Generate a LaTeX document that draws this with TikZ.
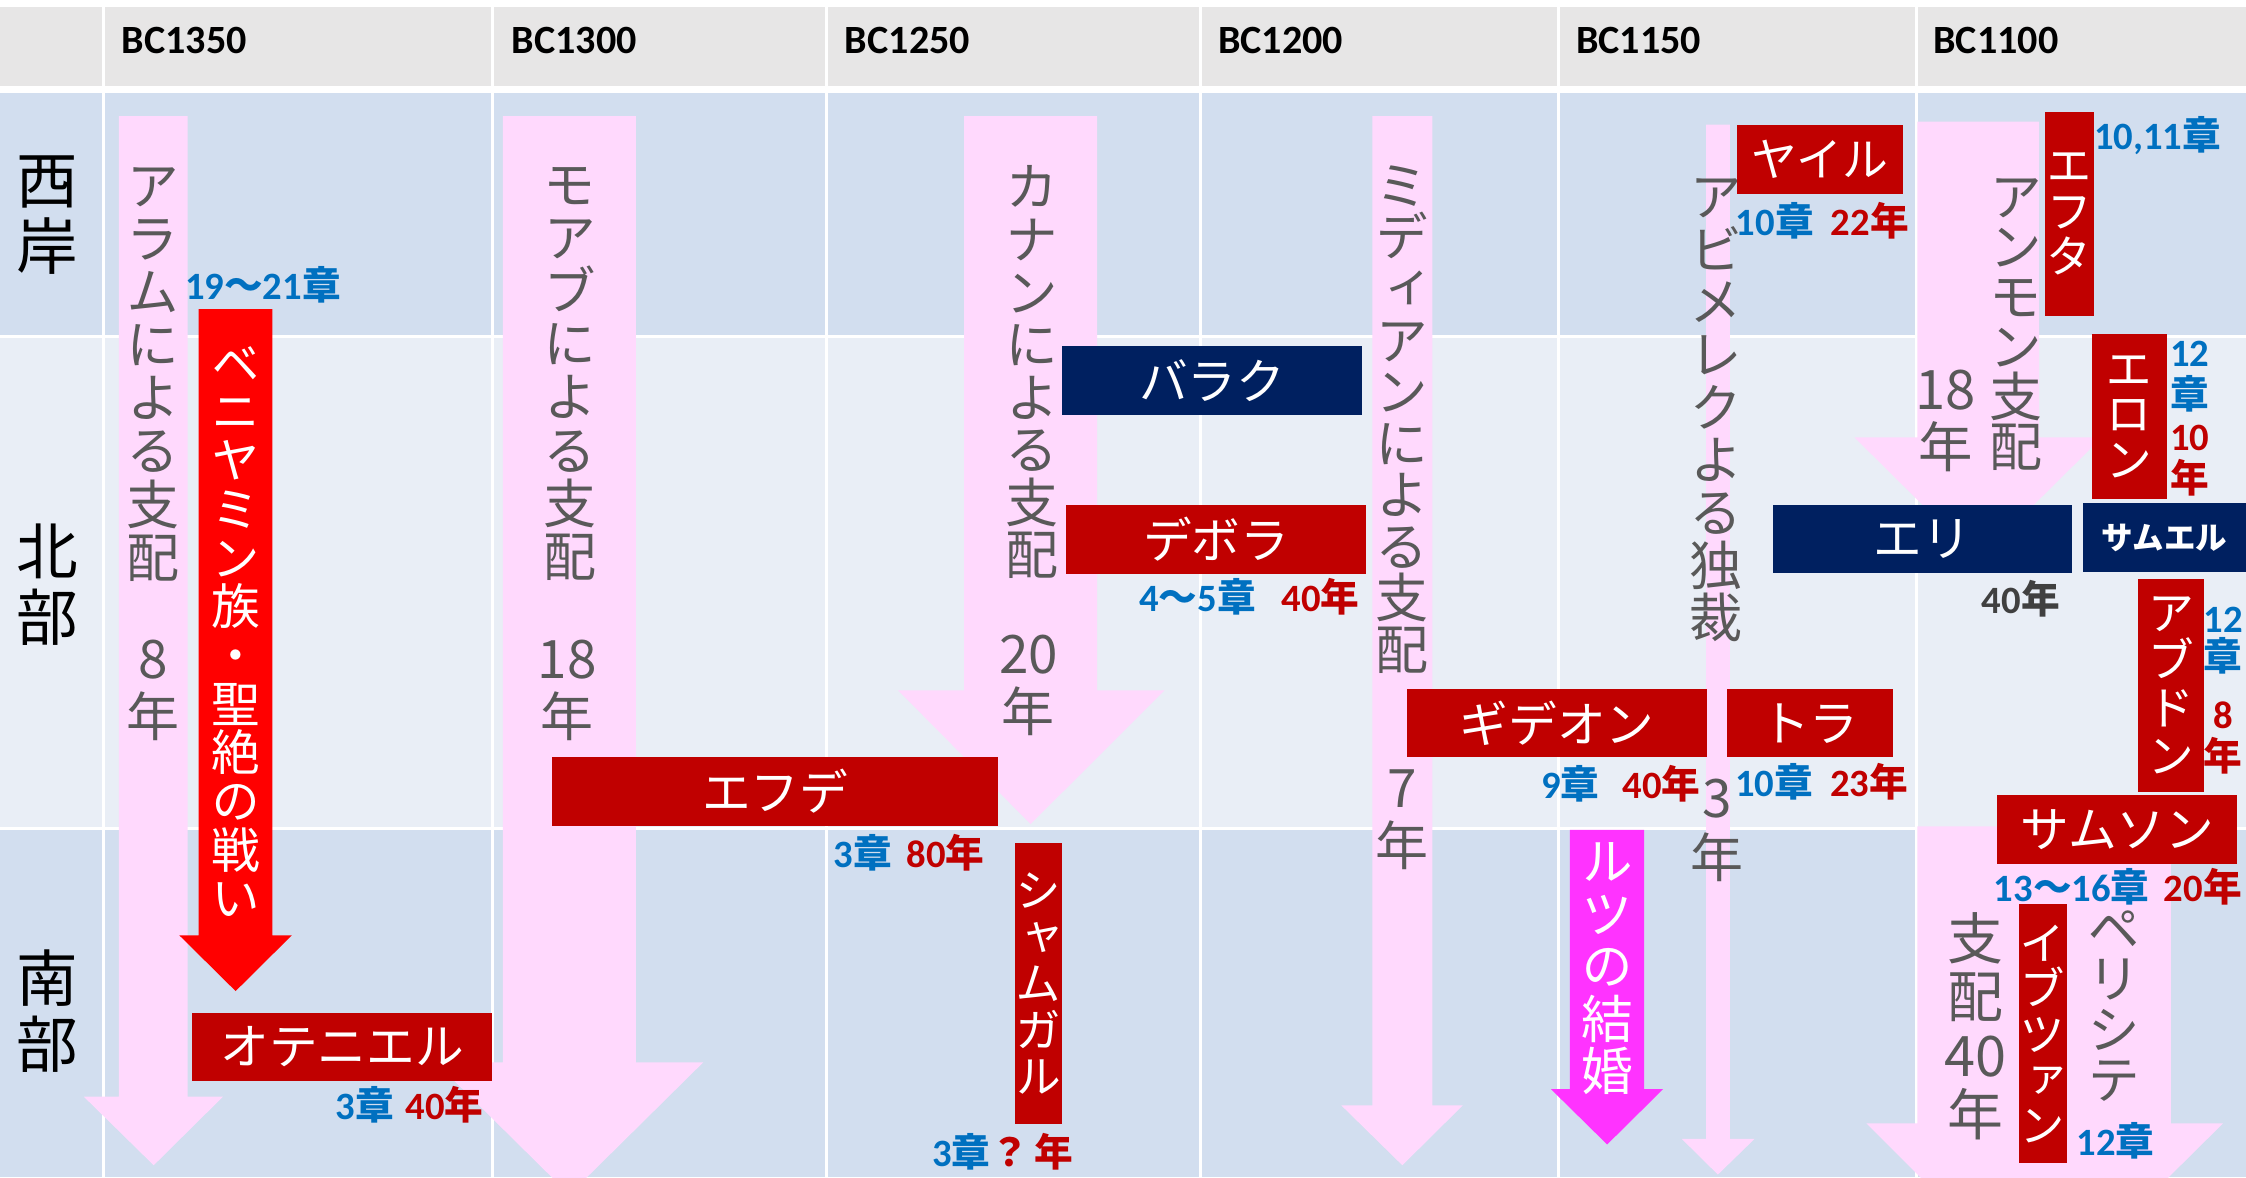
\documentclass[tikz,border=0pt]{standalone}
\usepackage{fontspec}
\setmainfont{Carlito}
\newfontfamily\cjk{Noto Sans CJK JP}
\newfontfamily\cjkv{Noto Sans CJK JP}[RawFeature=+vert]
\definecolor{hdr}{HTML}{E7E6E6}
\definecolor{bandA}{HTML}{D2DEEF}
\definecolor{bandB}{HTML}{E9EEF6}
\definecolor{pinkA}{HTML}{FFD9FD}
\definecolor{jred}{HTML}{C00000}
\definecolor{navy}{HTML}{002060}
\definecolor{bred}{HTML}{FF0000}
\definecolor{magA}{HTML}{FF33FF}
\definecolor{gtxt}{HTML}{595959}
\definecolor{lblue}{HTML}{0070C0}
\definecolor{lred}{HTML}{C00000}
\definecolor{dgray}{HTML}{404040}
\newcommand\cj[1]{{\cjk #1}}
\newcommand\cBlue[1]{{\color{lblue}#1}}
\newcommand\cRed[1]{{\color{lred}#1}}
\newcommand\mkarrow[9]{\fill[#1] (#2,#4) -- (#3,#4) -- (#3,#5) -- (#7,#5) -- (#8,#9) -- (#6,#5) -- (#2,#5) -- cycle;}
\newcommand\rbox[7]{\node[#1, minimum width={(#5-#3)*0.5pt}, minimum height={(#6-#4)*0.5pt}] (#2) at ({(#3+#5)/2},{(#4+#6)/2}) {#7};}
\tikzset{
  gridline/.style={white, line width=1.1pt},
  hdrtext/.style={anchor=west, inner sep=0, font=\bfseries\fontsize{14}{14}\selectfont},
  rowlab/.style={inner sep=0, align=center, font=\cjk\fontsize{21.5}{23.25}\selectfont},
  vgray/.style={inner sep=0, align=center, text=gtxt},
  hbox/.style={rectangle, inner sep=0, text=white, font=\cjk\fontsize{17}{17}\selectfont},
  vbox/.style={rectangle, inner sep=0, text=white, align=center},
  lab/.style={inner sep=0, align=center, font=\bfseries\fontsize{13.5}{14}\selectfont},
}
\begin{document}
\begin{tikzpicture}[x=0.5pt,y=-0.5pt]
\useasboundingbox (0,0) rectangle (1568,822);
\clip (0,0) rectangle (1568,822);
% background
\fill[white] (0,0) rectangle (1568,822);
\fill[hdr] (0,5) rectangle (1568,60);
\fill[bandA] (0,65) rectangle (1568,235);
\fill[bandB] (0,235) rectangle (1568,578.5);
\fill[bandA] (0,578.5) rectangle (1568,822);
\foreach \x in {72,344,577,838,1088,1338} \draw[gridline] (\x,0) -- (\x,822);
\draw[gridline] (0,235) -- (1568,235);
\draw[gridline] (0,578.5) -- (1568,578.5);
% header
\node[hdrtext] (h1) at (84.6,28) {BC1350};
\node[hdrtext] (h2) at (357,28) {BC1300};
\node[hdrtext] (h3) at (589.5,28) {BC1250};
\node[hdrtext] (h4) at (850,28) {BC1200};
\node[hdrtext] (h5) at (1100,28) {BC1150};
\node[hdrtext] (h6) at (1349.4,28) {BC1100};
% row labels
\node[rowlab] (west) at (33,150.2) {西\\岸};
\node[rowlab] (north) at (33,408.3) {北\\部};
\node[rowlab] (south) at (33,705.8) {南\\部};
% pink arrows
\mkarrow{pinkA}{83}{131}{81}{765.6}{58.5}{155.7}{107.3}{813.5}
\mkarrow{pinkA}{351}{444}{81}{741.6}{304}{491}{397.5}{834}
\mkarrow{pinkA}{673}{766}{81}{482}{627}{813}{719.5}{575.3}
\mkarrow{pinkA}{958}{1000}{81}{771.7}{936.4}{1021.2}{979}{813.5}
\mkarrow{pinkA}{1191}{1207.6}{87}{795}{1174}{1225}{1199.3}{820}
\mkarrow{pinkA}{1338.5}{1423.5}{85}{305.3}{1294.6}{1467.4}{1381}{391}
\mkarrow{pinkA}{1338.5}{1515.5}{577}{784.2}{1303}{1552}{1427}{908}
% coloured arrows
\mkarrow{bred}{138.7}{190.2}{215.8}{653}{125.2}{203.7}{164.5}{691.9}
\mkarrow{magA}{1096}{1147.8}{579.3}{760.3}{1082.7}{1161.1}{1122}{799}
% gray vertical texts
\node[vgray, font=\cjkv\fontsize{18.5}{18.55}\selectfont] (aram) at (106.6,261.3) {ア\\ラ\\ム\\に\\よ\\る\\支\\配};
\node[vgray, font=\cjkv\fontsize{18.5}{20}\selectfont] (aramy) at (107,482) {8\\年};
\node[vgray, font=\cjkv\fontsize{18.5}{18.55}\selectfont] (moab) at (397.6,261) {モ\\ア\\ブ\\に\\よ\\る\\支\\配};
\node[vgray, font=\cjkv\fontsize{18.5}{20}\selectfont] (moaby) at (396,482) {18\\年};
\node[vgray, font=\cjkv\fontsize{18.5}{18.35}\selectfont] (canaan) at (720.2,260) {カ\\ナ\\ン\\に\\よ\\る\\支\\配};
\node[vgray, font=\cjkv\fontsize{18.5}{20.3}\selectfont] (canaany) at (718,478.4) {20\\年};
\node[vgray, font=\cjkv\fontsize{18.5}{18}\selectfont] (midian) at (978.8,292.9) {ミ\\デ\\ィ\\ア\\ン\\に\\よ\\る\\支\\配};
\node[vgray, font=\cjkv\fontsize{18.5}{20.3}\selectfont] (midiany) at (979,572.3) {7\\年};
\node[vgray, font=\cjkv\fontsize{18.5}{18.37}\selectfont] (abim) at (1198.3,286.5) {ア\\ビ\\メ\\レ\\ク\\よ\\る\\独\\裁};
\node[vgray, font=\cjkv\fontsize{18.5}{20.7}\selectfont] (abimy) at (1199,579.8) {3\\年};
\node[vgray, font=\cjkv\fontsize{18.5}{17.5}\selectfont] (ammon) at (1407.5,226.5) {ア\\ン\\モ\\ン\\支\\配};
\node[vgray, font=\cjkv\fontsize{19}{20}\selectfont] (ammony) at (1358,293.8) {18\\年};
\node[vgray, font=\cjkv\fontsize{18.5}{17.5}\selectfont] (phil) at (1475.6,702.4) {ペ\\リ\\シ\\テ};
\node[vgray, font=\cjkv\fontsize{19.5}{20.45}\selectfont] (phily) at (1379.3,716.3) {支\\配\\40\\年};
% texts in coloured arrows
\node[vbox, font=\cjkv\fontsize{17}{17}\selectfont] (benj) at (164.5,441) {ベ\\ニ\\ヤ\\ミ\\ン\\族\\・\\聖\\絶\\の\\戦\\い};
\node[vbox, font=\cjkv\fontsize{18}{18.35}\selectfont] (ruth) at (1122,676.3) {ル\\ツ\\の\\結\\婚};
% horizontal boxes
\rbox{hbox, fill=jred}{otn}{134.3}{707}{343.5}{755}{オテニエル}
\rbox{hbox, fill=jred}{ehud}{385.4}{528.7}{697}{576.6}{エフデ}
\rbox{hbox, fill=navy}{barak}{741.6}{241.5}{951}{289.5}{バラク}
\rbox{hbox, fill=jred}{deb}{744.5}{352.6}{953.5}{400.7}{デボラ}
\rbox{hbox, fill=jred}{gid}{982.4}{481.3}{1191.7}{528.7}{ギデオン}
\rbox{hbox, fill=jred}{tola}{1205.6}{481.3}{1321.2}{528.7}{トラ}
\rbox{hbox, fill=jred, font=\cjk\fontsize{16}{16}\selectfont}{jair}{1212.6}{87.3}{1328.2}{135.4}{ヤイル}
\rbox{hbox, fill=navy}{eli}{1237.8}{352.6}{1446.7}{400.1}{エリ}
\rbox{hbox, fill=navy, font=\cjk\bfseries\fontsize{11}{11}\selectfont}{samuel}{1454}{351.2}{1568}{399.3}{サムエル}
\rbox{hbox, fill=jred}{samson}{1394.2}{555.3}{1562}{603.2}{サムソン}
% vertical boxes
\rbox{vbox, fill=jred, font=\cjkv\fontsize{16}{16.25}\selectfont}{shamgar}{708.5}{588.6}{741.6}{785}{シ\\ャ\\ム\\ガ\\ル}
\rbox{vbox, fill=jred, font=\cjkv\fontsize{16}{15.75}\selectfont}{jeph}{1427.8}{78.3}{1461.7}{220.4}{エ\\フ\\タ}
\rbox{vbox, fill=jred, font=\cjkv\fontsize{16.5}{15.85}\selectfont}{elon}{1460.3}{233.2}{1512.8}{348.6}{エ\\ロ\\ン}
\rbox{vbox, fill=jred, font=\cjkv\fontsize{16.5}{16.65}\selectfont}{abdon}{1492.6}{404}{1538.7}{552.6}{ア\\ブ\\ド\\ン}
\rbox{vbox, fill=jred, font=\cjkv\fontsize{16}{15.9}\selectfont}{ibzan}{1409.2}{631.2}{1443.1}{812.2}{イ\\ブ\\ツ\\ァ\\ン}
% labels
\node[lab] (l1) at (183.6,199) {\cBlue{19\cj{〜}21\cj{章}}};
\node[lab] (l2) at (286,771) {\cBlue{3\cj{章}}\hspace{4pt}\cRed{40\cj{年}}};
\node[lab] (l3) at (634.7,595.2) {\cBlue{3\cj{章}}\hspace{5pt}\cRed{80\cj{年}}};
\node[lab] (l4) at (872.3,416.9) {\cBlue{4\cj{〜}5\cj{章}}\hspace{9pt}\cRed{40\cj{年}}};
\node[lab] (l5) at (700,804.2) {\cBlue{3\cj{章}}\cRed{\cj{？}\hspace{2pt}\cj{年}}};
\node[lab] (l6) at (1131.5,547.3) {\cBlue{9\cj{章}}\hspace{8pt}\cRed{40\cj{年}}};
\node[lab] (l7) at (1271.7,546) {\cBlue{10\cj{章}}\hspace{6pt}\cRed{23\cj{年}}};
\node[lab] (l8) at (1272.2,154.4) {\cBlue{10\cj{章}}\hspace{6pt}\cRed{22\cj{年}}};
\node[lab] (l9) at (1506.3,94.8) {\cBlue{10,11\cj{章}}};
\node[lab, font=\bfseries\fontsize{13.5}{14.7}\selectfont] (l10) at (1528.8,292.4) {\cBlue{12}\\\cBlue{\cj{章}}\\\cRed{10}\\\cRed{\cj{年}}};
\node[lab, text=dgray] (l11) at (1410.8,418.2) {40\cj{年}};
\node[lab, font=\bfseries\fontsize{13.5}{13.3}\selectfont] (l12a) at (1552,447.5) {\cBlue{12}\\\cBlue{\cj{章}}};
\node[lab, font=\bfseries\fontsize{13.5}{14.6}\selectfont] (l12b) at (1552,515.4) {\cRed{8}\\\cRed{\cj{年}}};
\node[lab] (l13) at (1478.5,619.2) {\cBlue{13\cj{〜}16\cj{章}}\hspace{5pt}\cRed{20\cj{年}}};
\node[lab] (l14) at (1477,796.2) {\cBlue{12\cj{章}}};
\end{tikzpicture}
\end{document}
